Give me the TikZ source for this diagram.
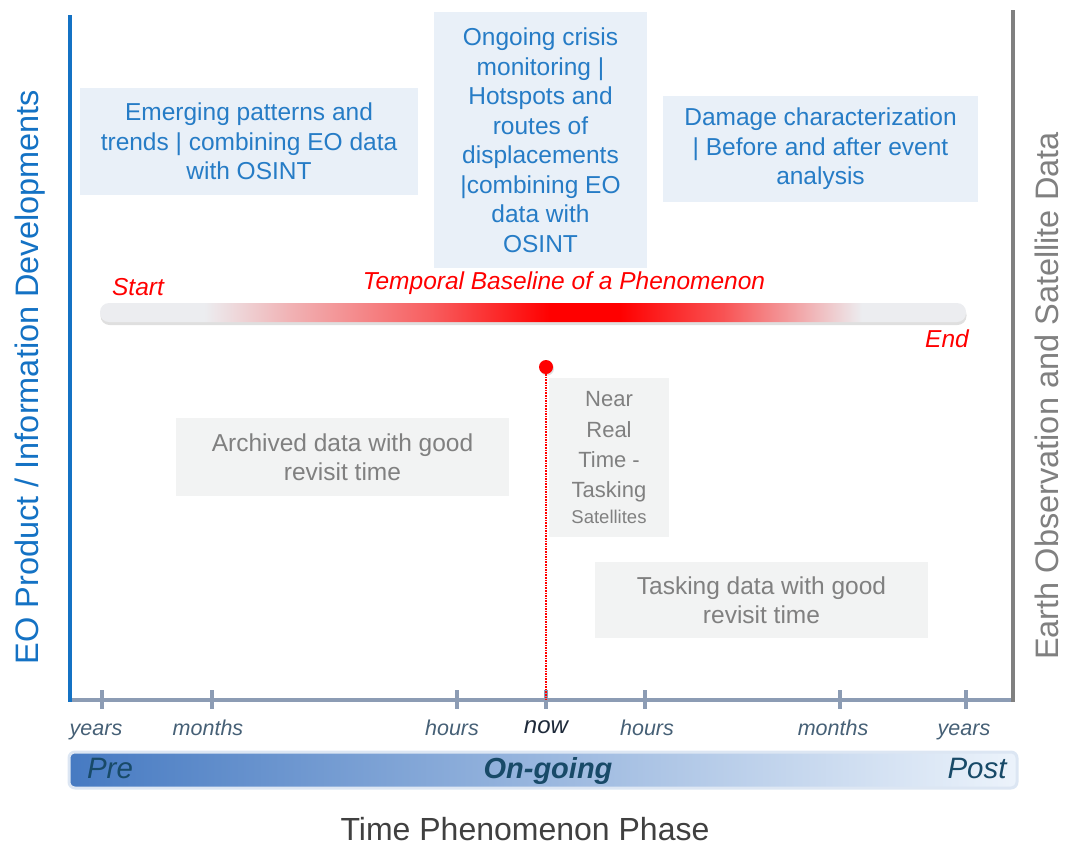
\documentclass[tikz,border=0pt]{standalone}
\usepackage{fontspec}
\setmainfont{Liberation Sans}
\usetikzlibrary{shadows}

% palette
\definecolor{eoblue}{RGB}{20,114,196}
\definecolor{txtblue}{RGB}{38,124,198}
\definecolor{boxblue}{RGB}{233,240,248}
\definecolor{boxgray}{RGB}{242,243,243}
\definecolor{txtgray}{RGB}{128,128,128}
\definecolor{sidegray}{RGB}{128,128,128}
\definecolor{axisgray}{RGB}{140,156,180}
\definecolor{ticktxt}{RGB}{70,96,118}
\definecolor{nowtxt}{RGB}{30,42,58}
\definecolor{phasetxt}{RGB}{24,74,104}
\definecolor{barbg}{RGB}{236,237,240}
\definecolor{phaseL}{RGB}{70,122,194}
\definecolor{phaseR}{RGB}{236,243,251}
\definecolor{phaseframe}{RGB}{220,230,243}
\definecolor{titletxt}{RGB}{64,64,64}

% red baseline shading (path spans 25bp..75bp)
\pgfdeclarehorizontalshading{baselineshade}{100bp}{%
  color(0bp)=(barbg); color(31bp)=(barbg); color(36bp)=(red!25!barbg);
  color(44bp)=(red!60!barbg); color(51bp)=(red); color(55bp)=(red);
  color(61bp)=(red!65!barbg); color(69bp)=(barbg); color(100bp)=(barbg)}

\tikzset{
  topbox/.style={fill=boxblue, text=txtblue, align=center, inner sep=0pt,
    font=\fontsize{24.5}{29.5}\selectfont},
  graybox/.style={fill=boxgray, text=txtgray, align=center, inner sep=0pt,
    font=\fontsize{24.5}{29.5}\selectfont},
  ticklbl/.style={text=ticktxt, anchor=base, inner sep=0pt, font=\fontsize{21.5}{24}\selectfont\itshape},
  tickmark/.style={axisgray, line width=4.5pt},
  redlbl/.style={text=red, font=\fontsize{24.5}{28}\selectfont\itshape},
  phaselbl/.style={text=phasetxt, font=\fontsize{29.5}{32}\selectfont\itshape},
}

\begin{document}
\begin{tikzpicture}[x=1pt,y=-1pt]
\useasboundingbox (0,0) rectangle (1067,846);

% frame axes
\coordinate (lt) at (70,15);
\coordinate (rt) at (1013,10);
\draw[axisgray, line width=4pt] (68,700) -- (1015,700);
\draw[eoblue, line width=4pt] (lt) -- (70,702);
\draw[sidegray, line width=4pt] (rt) -- (1013,702);

% ticks
\foreach \x in {102,212,457,546,645,840,966}{
  \draw[tickmark] (\x,690) -- (\x,709);
}
\coordinate (nowtick) at (546,700);

% tick labels, set on a common baseline
\node[ticklbl] (tya) at (96,735) {years};
\node[ticklbl] (tma) at (208,735) {months};
\node[ticklbl] (tha) at (452,735) {hours};
\node[ticklbl, text=nowtxt, font=\fontsize{24}{26}\selectfont\itshape] (tnow) at (546,733) {now};
\node[ticklbl] (thb) at (647,735) {hours};
\node[ticklbl] (tmb) at (833,735) {months};
\node[ticklbl] (tyb) at (964,735) {years};

% side titles
\node[rotate=90, text=eoblue, font=\fontsize{32.5}{36}\selectfont] (lefttitle) at (30,377)
  {EO Product / Information Developments};
\node[rotate=90, text=sidegray, font=\fontsize{32.5}{36}\selectfont] (righttitle) at (1047,396)
  {Earth Observation and Satellite Data};

% top boxes
\node[topbox, minimum width=338pt, minimum height=107pt] (emerg) at (249,141.5)
  {Emerging patterns and\\trends | combining EO data\\with OSINT};
\node[topbox, minimum width=213pt, minimum height=256pt] (crisis) at (540.5,140)
  {Ongoing crisis\\monitoring |\\Hotspots and\\routes of\\displacements\\|combining EO\\data with\\OSINT};
\node[topbox, minimum width=315pt, minimum height=106pt] (damage) at (820.5,149)
  {Damage characterization\\| Before and after event\\analysis};

% temporal baseline bar
\path[shading=baselineshade, rounded corners=9pt,
  drop shadow={shadow xshift=0.5pt, shadow yshift=-3pt, opacity=0.25}]
  (100,303) rectangle (966,322);
\node[redlbl] (start) at (138,287) {Start};
\node[redlbl] (tbase) at (564,283) {Temporal Baseline of a Phenomenon};
\node[redlbl] (end) at (947,339) {End};

% present moment marker
\node[circle, fill=red, inner sep=0pt, minimum size=14pt,
  drop shadow={shadow xshift=1pt, shadow yshift=-1.5pt, opacity=0.25}] (dot) at (546,367) {};
\draw[red, densely dotted, line width=1.6pt] (dot) -- (nowtick);

% data availability boxes
\node[graybox, minimum width=333pt, minimum height=78pt] (archive) at (342.5,457)
  {Archived data with good\\revisit time};
\node[graybox, font=\fontsize{22}{30.3}\selectfont, minimum width=120pt, minimum height=159pt] (nrt) at (609,457.5)
  {Near\\Real\\Time -\\Tasking\\[-5pt]{\fontsize{18.5}{20}\selectfont Satellites}};
\node[graybox, minimum width=333pt, minimum height=76pt] (tasking) at (761.5,600)
  {Tasking data with good\\revisit time};

% phase bar
\path[draw=phaseframe, line width=3pt, left color=phaseL, right color=phaseR, rounded corners=6pt]
  (69,752) rectangle (1017,788);
\node[phaselbl] (pre) at (110,768) {Pre};
\node[phaselbl, font=\fontsize{29}{32}\selectfont\bfseries\itshape] (ongoing) at (548,771) {On-going};
\node[phaselbl] (post) at (977,768) {Post};

% axis title
\node[text=titletxt, inner sep=0pt, font=\fontsize{32}{34}\selectfont] (phase) at (525,829) {Time Phenomenon Phase};
\end{tikzpicture}
\end{document}
